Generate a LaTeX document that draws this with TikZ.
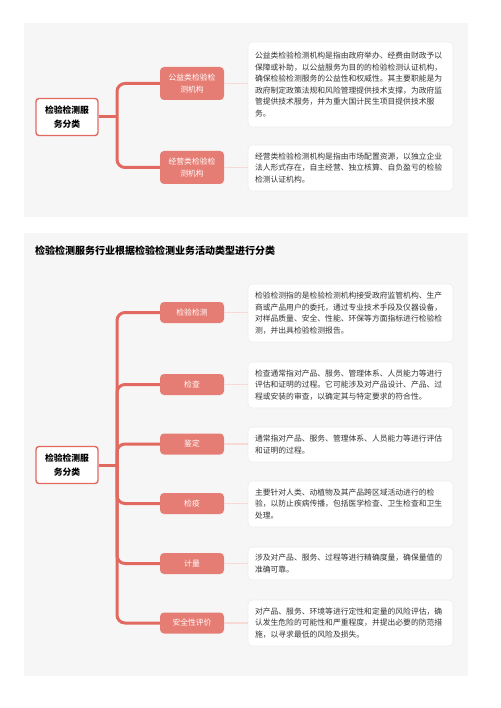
\documentclass[tikz,border=0pt]{standalone}
\usepackage{fontspec}
\setmainfont{Noto Sans CJK SC}
\definecolor{panelbg}{HTML}{F6F6F6}
\definecolor{trunkc}{HTML}{E2695F}
\definecolor{branchc}{HTML}{E67D74}
\definecolor{lightc}{HTML}{F7D9D5}
\definecolor{boxline}{HTML}{ECECEC}
\definecolor{txt}{HTML}{333333}
\tikzset{
  panel/.style={fill=panelbg, draw=none},
  rootbox/.style={draw=trunkc, line width=1.4pt, fill=white, rounded corners=3pt,
    minimum width=62pt, minimum height=37pt, inner sep=2pt, align=center,
    font=\fontsize{8.8}{14}\selectfont\bfseries, text=black},
  branchbox/.style={fill=branchc, draw=none, rounded corners=4pt, text=white,
    minimum width=64pt, inner sep=2pt, align=center,
    font=\fontsize{7.8}{12.5}\selectfont},
  descbox/.style={draw=boxline, line width=0.6pt, fill=white, rounded corners=4pt,
    minimum width=205pt, text width=191pt, inner sep=0pt, align=left, text=txt,
    font=\fontsize{7.8}{11.6}\selectfont},
  trunk/.style={draw=trunkc, line width=3pt, rounded corners=8pt},
  lightline/.style={draw=lightc, line width=1.6pt},
  titletext/.style={font=\fontsize{10}{12}\selectfont\bfseries, text=black, anchor=west, inner sep=0pt}
}
\begin{document}
\begin{tikzpicture}[x=1pt, y=-1pt]
\useasboundingbox (0,0) rectangle (500,708);
\fill[white] (0,0) rectangle (500,708);
% panels
\fill[panel] (24,23) rectangle (468,217);
\fill[panel] (24,233) rectangle (468,676);

% ---------- panel 1 ----------
\node[rootbox] (r1) at (67,117) {检验检测服\\务分类};
\node[branchbox, minimum height=33pt] (a1) at (192,83.5) {公益类检验检\\测机构};
\node[branchbox, minimum height=33pt] (a2) at (192,167.5) {经营类检验检\\测机构};
\node[descbox, minimum height=85pt] (d1) at (350.5,84.5) {公益类检验检测机构是指由政府举办、经费由财政予以\\保障或补助，以公益服务为目的的检验检测认证机构，\\确保检验检测服务的公益性和权威性。其主要职能是为\\政府制定政策法规和风险管理提供技术支撑，为政府监\\管提供技术服务，并为重大国计民生项目提供技术服\\务。};
\node[descbox, minimum height=46pt] (d2) at (350.5,168) {经营类检验检测机构是指由市场配置资源，以独立企业\\法人形式存在，自主经营、独立核算、自负盈亏的检验\\检测认证机构。};
\coordinate (j1) at (117,117);
\draw[trunk] (r1.east) -- (j1);
\draw[trunk] (j1) |- (a1.west);
\draw[trunk] (j1) |- (a2.west);
\draw[lightline] (a1.east) -- (a1.east -| d1.west);
\draw[lightline] (a2.east) -- (a2.east -| d2.west);

% ---------- panel 2 ----------
\node[titletext] (t2) at (35,251) {检验检测服务行业根据检验检测业务活动类型进行分类};
\node[rootbox] (r2) at (67,465) {检验检测服\\务分类};
\node[branchbox, minimum height=21pt] (b1) at (192,312.5) {检验检测};
\node[branchbox, minimum height=21pt] (b2) at (192,384.5) {检查};
\node[branchbox, minimum height=21pt] (b3) at (192,444) {鉴定};
\node[branchbox, minimum height=21pt] (b4) at (192,503.5) {检疫};
\node[branchbox, minimum height=21pt] (b5) at (192,563.5) {计量};
\node[branchbox, minimum height=21pt] (b6) at (192,623) {安全性评价};

\node[descbox, minimum height=58pt] (e1) at (350.5,313) {检验检测指的是检验检测机构接受政府监管机构、生产\\商或产品用户的委托，通过专业技术手段及仪器设备，\\对样品质量、安全、性能、环保等方面指标进行检验检\\测，并出具检验检测报告。};
\node[descbox, minimum height=46pt] (e2) at (350.5,385) {检查通常指对产品、服务、管理体系、人员能力等进行\\评估和证明的过程。它可能涉及对产品设计、产品、过\\程或安装的审查，以确定其与特定要求的符合性。};
\node[descbox, minimum height=35pt] (e3) at (350.5,444.5) {通常指对产品、服务、管理体系、人员能力等进行评估\\和证明的过程。};
\node[descbox, minimum height=46pt] (e4) at (350.5,504) {主要针对人类、动植物及其产品跨区域活动进行的检\\验，以防止疾病传播，包括医学检查、卫生检查和卫生\\处理。};
\node[descbox, minimum height=33pt] (e5) at (350.5,563.5) {涉及对产品、服务、过程等进行精确度量，确保量值的\\准确可靠。};
\node[descbox, minimum height=46pt] (e6) at (350.5,623) {对产品、服务、环境等进行定性和定量的风险评估，确\\认发生危险的可能性和严重程度，并提出必要的防范措\\施，以寻求最低的风险及损失。};

\coordinate (j2) at (117,465);
\draw[trunk] (r2.east) -- (j2);
\foreach \b in {b1,b2,b3,b4,b5,b6} {
  \draw[trunk] (j2) |- (\b.west);
}
\draw[lightline] (b1.east) -- (b1.east -| e1.west);
\draw[lightline] (b2.east) -- (b2.east -| e2.west);
\draw[lightline] (b3.east) -- (b3.east -| e3.west);
\draw[lightline] (b4.east) -- (b4.east -| e4.west);
\draw[lightline] (b5.east) -- (b5.east -| e5.west);
\draw[lightline] (b6.east) -- (b6.east -| e6.west);
\end{tikzpicture}
\end{document}
